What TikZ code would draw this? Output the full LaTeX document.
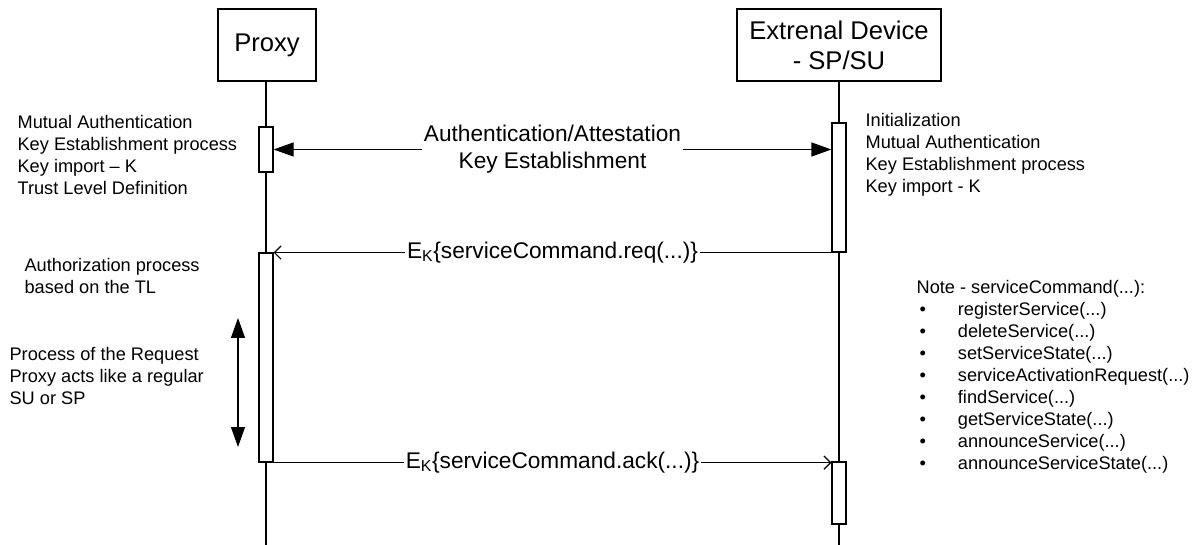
\documentclass[tikz,border=0pt]{standalone}
\usepackage{fontspec}
\setmainfont{Liberation Sans}
\usetikzlibrary{arrows.meta}
\newcommand{\bulletitem}[1]{\makebox[31pt][l]{\,•}#1}

\begin{document}
\begin{tikzpicture}[x=0.75pt, y=-0.75pt, line width=0.9pt,
  actor/.style={draw, fill=white, minimum height=54pt, align=center,
    inner sep=0pt, font=\fontsize{19.2pt}{22.5pt}\selectfont},
  activation/.style={draw, fill=white, minimum width=10.5pt, inner sep=0pt},
  lifeline/.style={draw},
  note/.style={align=left, inner sep=0pt, anchor=west,
    font=\fontsize{13.65pt}{16.5pt}\selectfont},
  msglabel/.style={fill=white, inner xsep=1.5pt, inner ysep=1pt, align=center,
    font=\fontsize{17pt}{20.25pt}\selectfont},
  handshake/.style={{Triangle[length=15pt,width=10.5pt]}-{Triangle[length=15pt,width=10.5pt]}},
  message/.style={-{Straight Barb[length=5pt,width=10pt,line width=0.9pt]}}
]
\useasboundingbox (0,0) rectangle (1200,545);

% participants
\node[actor, minimum width=73.5pt] (proxy) at (267,45) {Proxy};
\node[actor, minimum width=153pt] (ext) at (839,45) {Extrenal Device\\- SP/SU};

% lifeline ends
\coordinate (proxyend) at (266,545);
\coordinate (extend) at (839,545);
\draw[lifeline] (proxy.south -| proxyend) -- (proxyend);
\draw[lifeline] (ext.south -| extend) -- (extend);

% activation bars
\node[activation, minimum height=33.75pt] (pa1) at (266,149.5) {};
\node[activation, minimum height=96.75pt] (ea1) at (839,187.5) {};
\node[activation, minimum height=156.75pt] (pa2) at (266,357.5) {};
\node[activation, minimum height=46.5pt] (ea2) at (839,493) {};

% authentication and key establishment
\draw[handshake] (pa1.east) -- (pa1.east -| ea1.west)
  node[msglabel, midway] {Authentication/Attestation\\Key Establishment};

% request
\draw[message] (ea1.south west) -- (ea1.south west -| pa2.east)
  node[msglabel, midway] {E\textsubscript{K}\{serviceCommand.req(...)\}};

% acknowledgement
\draw[message] (pa2.south east) -- (pa2.south east -| ea2.west)
  node[msglabel, midway] {E\textsubscript{K}\{serviceCommand.ack(...)\}};

% processing span on the proxy
\coordinate (spantop) at (238,318);
\coordinate (spanbot) at (238,447);
\draw[handshake] (spantop) -- (spanbot);

% annotations
\node[note] (proxynote) at (17,154.5) {Mutual Authentication\\Key Establishment process\\Key import -- K\\Trust Level Definition};
\node[note] (extnote) at (865,154.5) {Initialization\\Mutual Authentication\\Key Establishment process\\Key import - K};
\node[note] (authnote) at (24,276) {Authorization process\\based on the TL};
\node[note] (procnote) at (9,375.5) {Process of the Request\\Proxy acts like a regular\\SU or SP};
\node[note] (cmdnote) at (916,377) {Note - serviceCommand(...):\\
  \bulletitem{registerService(...)}\\
  \bulletitem{deleteService(...)}\\
  \bulletitem{setServiceState(...)}\\
  \bulletitem{serviceActivationRequest(...)}\\
  \bulletitem{findService(...)}\\
  \bulletitem{getServiceState(...)}\\
  \bulletitem{announceService(...)}\\
  \bulletitem{announceServiceState(...)}};
\end{tikzpicture}
\end{document}
